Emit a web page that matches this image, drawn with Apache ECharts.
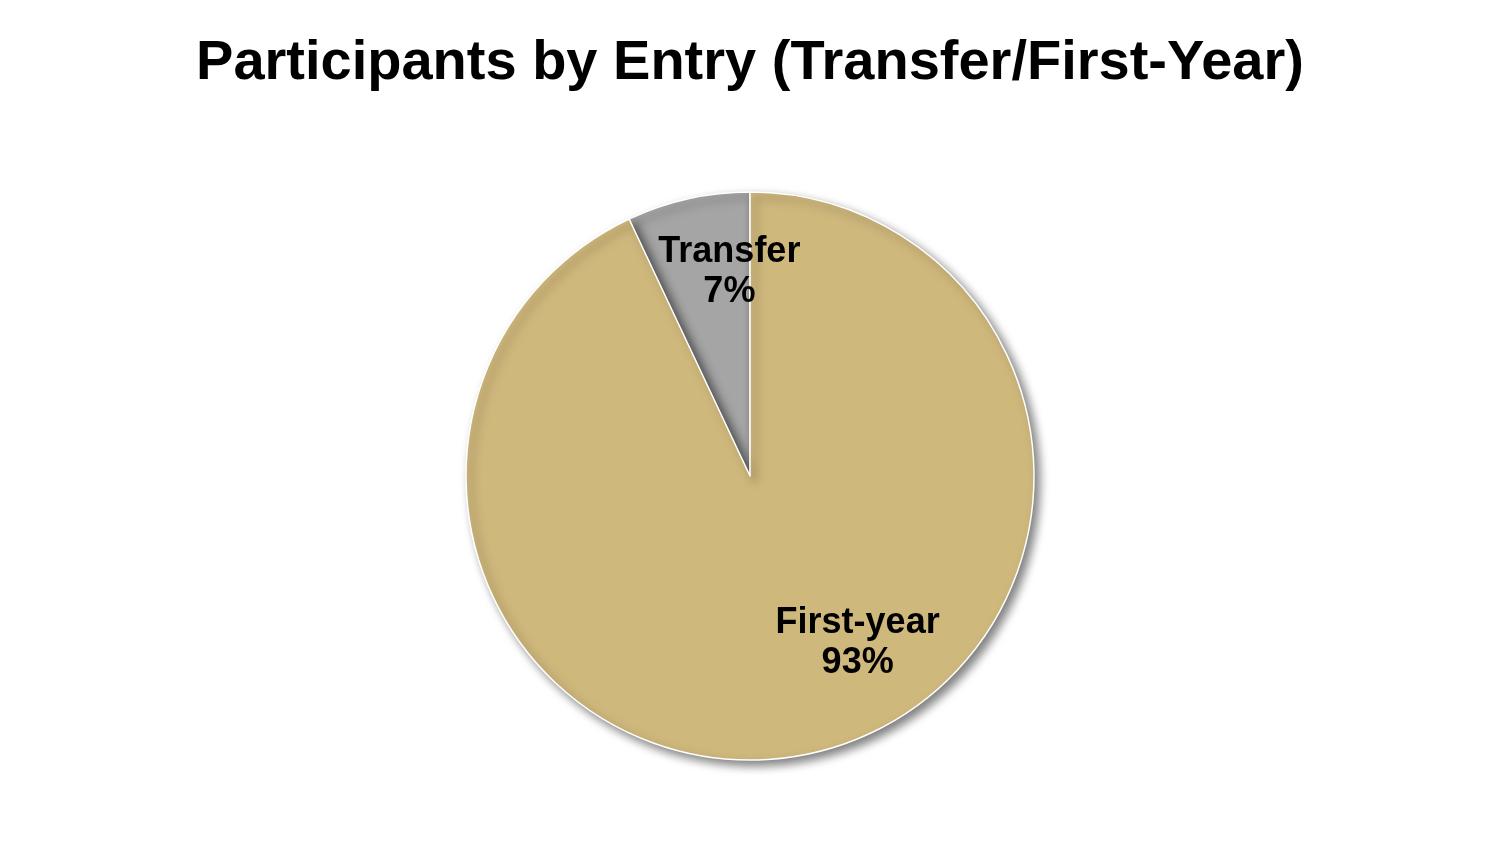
<!DOCTYPE html>
<html>
<head>
<meta charset="utf-8">
<script src="https://cdn.jsdelivr.net/npm/echarts@6/dist/echarts.min.js"></script>
<style>
  html, body { margin: 0; padding: 0; background: #fff; }
  #chart-container { width: 1500px; height: 851px; }
</style>
</head>
<body>
<div id="chart-container"></div>
<script>
const categories = ["Transfer", "First-year"];
const shares = [7, 93];
const sliceColors = ["#a5a5a5", "#cfb87c"];
// label nudges from the default inside position
const labelOffsets = [[11, -62], [76, 26]];

function createPie(id) {
  let dom = document.getElementById(id);
  let myChart = echarts.init(dom, null, { renderer: "canvas" });
  let data = [];
  for (let i = 0; i < categories.length; i++) {
    data.push({
      name: categories[i],
      value: shares[i],
      itemStyle: { color: sliceColors[i] },
      label: { offset: labelOffsets[i] },
    });
  }
  let option = {
    animation: false,
    title: {
      text: "Participants by Entry (Transfer/First-Year)",
      left: "center",
      top: 31,
      textStyle: {
        fontFamily: "Liberation Sans, Arial, sans-serif",
        fontSize: 56,
        fontWeight: "bold",
        color: "#000",
      },
    },
    series: [
      {
        type: "pie",
        center: [750, 476],
        radius: [0, 284],
        startAngle: 90,
        clockwise: false,
        itemStyle: {
          borderColor: "#fff",
          borderWidth: 1.5,
          shadowColor: "rgba(0,0,0,0.5)",
          shadowBlur: 10,
          shadowOffsetX: 5,
          shadowOffsetY: 5,
        },
        label: {
          show: true,
          position: "inside",
          formatter: "{b}\n{d}%",
          fontFamily: "Liberation Sans, Arial, sans-serif",
          fontSize: 36,
          fontWeight: "bold",
          lineHeight: 40,
          color: "#000",
        },
        labelLine: { show: false },
        emphasis: { disabled: true },
        data: data,
      },
    ],
  };
  myChart.setOption(option);
}

createPie("chart-container");
</script>
</body>
</html>
